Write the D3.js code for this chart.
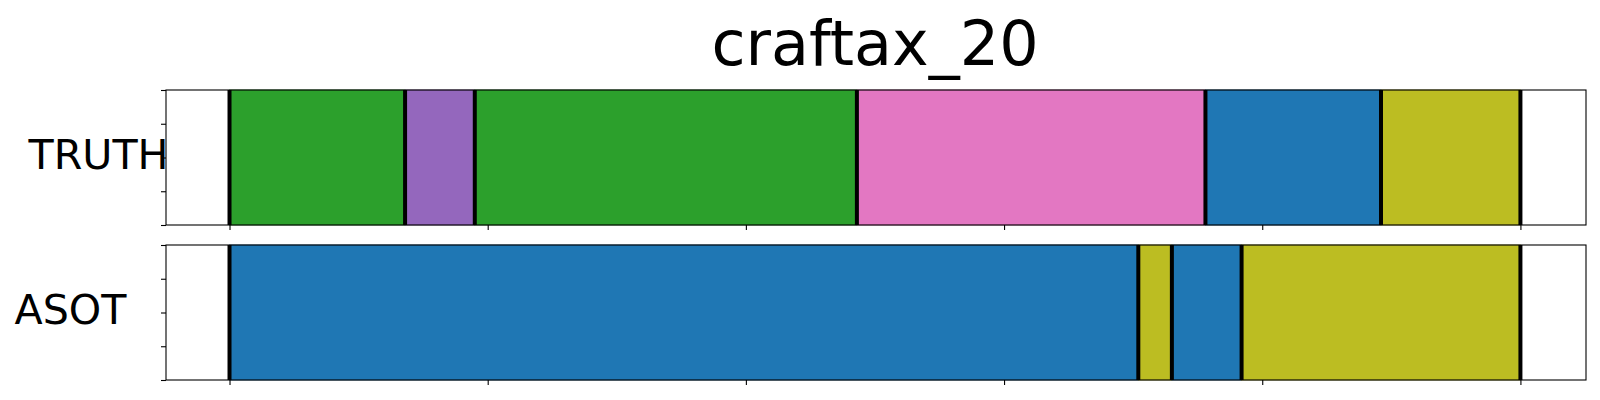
<!DOCTYPE html>
<html><head><meta charset="utf-8">
<script src="https://cdn.jsdelivr.net/npm/d3@7"></script>
<style>body{margin:0;background:#fff}svg{display:block}text{font-family:"DejaVu Sans",sans-serif}</style>
</head><body><svg id="c" width="1600" height="400"></svg>
<script>
const title = "craftax_20";
const rowNames = ["TRUTH", "ASOT"];
const truthBounds = [0, 68, 95, 243, 378, 446, 500];
const truthLabels = ["green", "purple", "green", "pink", "blue", "olive"];
const asotBounds = [0, 352, 365, 392, 500];
const asotLabels = ["blue", "olive", "blue", "olive"];
const xTicks = [0, 100, 200, 300, 400, 500];
const yTicks = [0, 0.25, 0.5, 0.75, 1];
const colorOf = {green:"#2ca02c", purple:"#9467bd", pink:"#e377c2", blue:"#1f77b4", olive:"#bcbd22"};

const svg = d3.select("#c");
const L = 166, R = 1586;
const x = d3.scaleLinear().domain([-24.6, 525.4]).range([L, R]);
const panels = [
  {name: rowNames[0], bounds: truthBounds, labels: truthLabels, top: 90, bottom: 225, lx: 28.5, ly: 168.5},
  {name: rowNames[1], bounds: asotBounds, labels: asotLabels, top: 245, bottom: 380, lx: 14.5, ly: 323.5}
];

svg.append("text").attr("x", 875).attr("y", 64.5).attr("text-anchor", "middle")
  .attr("font-size", 62).attr("fill", "#000").text(title);

panels.forEach(p => {
  const y = d3.scaleLinear().domain([0, 1]).range([p.bottom, p.top]);
  const g = svg.append("g");
  const segs = p.labels.map((c, i) => ({c, a: p.bounds[i], b: p.bounds[i+1]}));
  g.selectAll("rect.seg").data(segs).enter().append("rect")
    .attr("x", d => x(d.a)).attr("width", d => x(d.b) - x(d.a))
    .attr("y", y(1)).attr("height", y(0) - y(1))
    .attr("fill", d => colorOf[d.c])
    .attr("stroke", d => d3.color(colorOf[d.c]).darker(0.4)).attr("stroke-width", 0.8);
  g.selectAll("line.bd").data(p.bounds).enter().append("line")
    .attr("x1", d => x(d)).attr("x2", d => x(d))
    .attr("y1", y(0)).attr("y2", y(1))
    .attr("stroke", "#000").attr("stroke-width", 4);
  g.append("rect").attr("x", L).attr("y", p.top).attr("width", R - L).attr("height", p.bottom - p.top)
    .attr("fill", "none").attr("stroke", "#000").attr("stroke-width", 1.1);
  const xa = g.append("g").attr("transform", `translate(0,${p.bottom})`)
    .call(d3.axisBottom(x).tickValues(xTicks).tickFormat("").tickSize(5).tickSizeOuter(0));
  const ya = g.append("g").attr("transform", `translate(${L},0)`)
    .call(d3.axisLeft(y).tickValues(yTicks).tickFormat("").tickSize(5).tickSizeOuter(0));
  [xa, ya].forEach(a => { a.select(".domain").remove(); a.selectAll("line").attr("stroke", "#000").attr("stroke-width", 1.1); });
  svg.append("text").attr("x", p.lx).attr("y", p.ly).attr("font-size", 41.2).attr("fill", "#000").text(p.name);
});
</script></body></html>
